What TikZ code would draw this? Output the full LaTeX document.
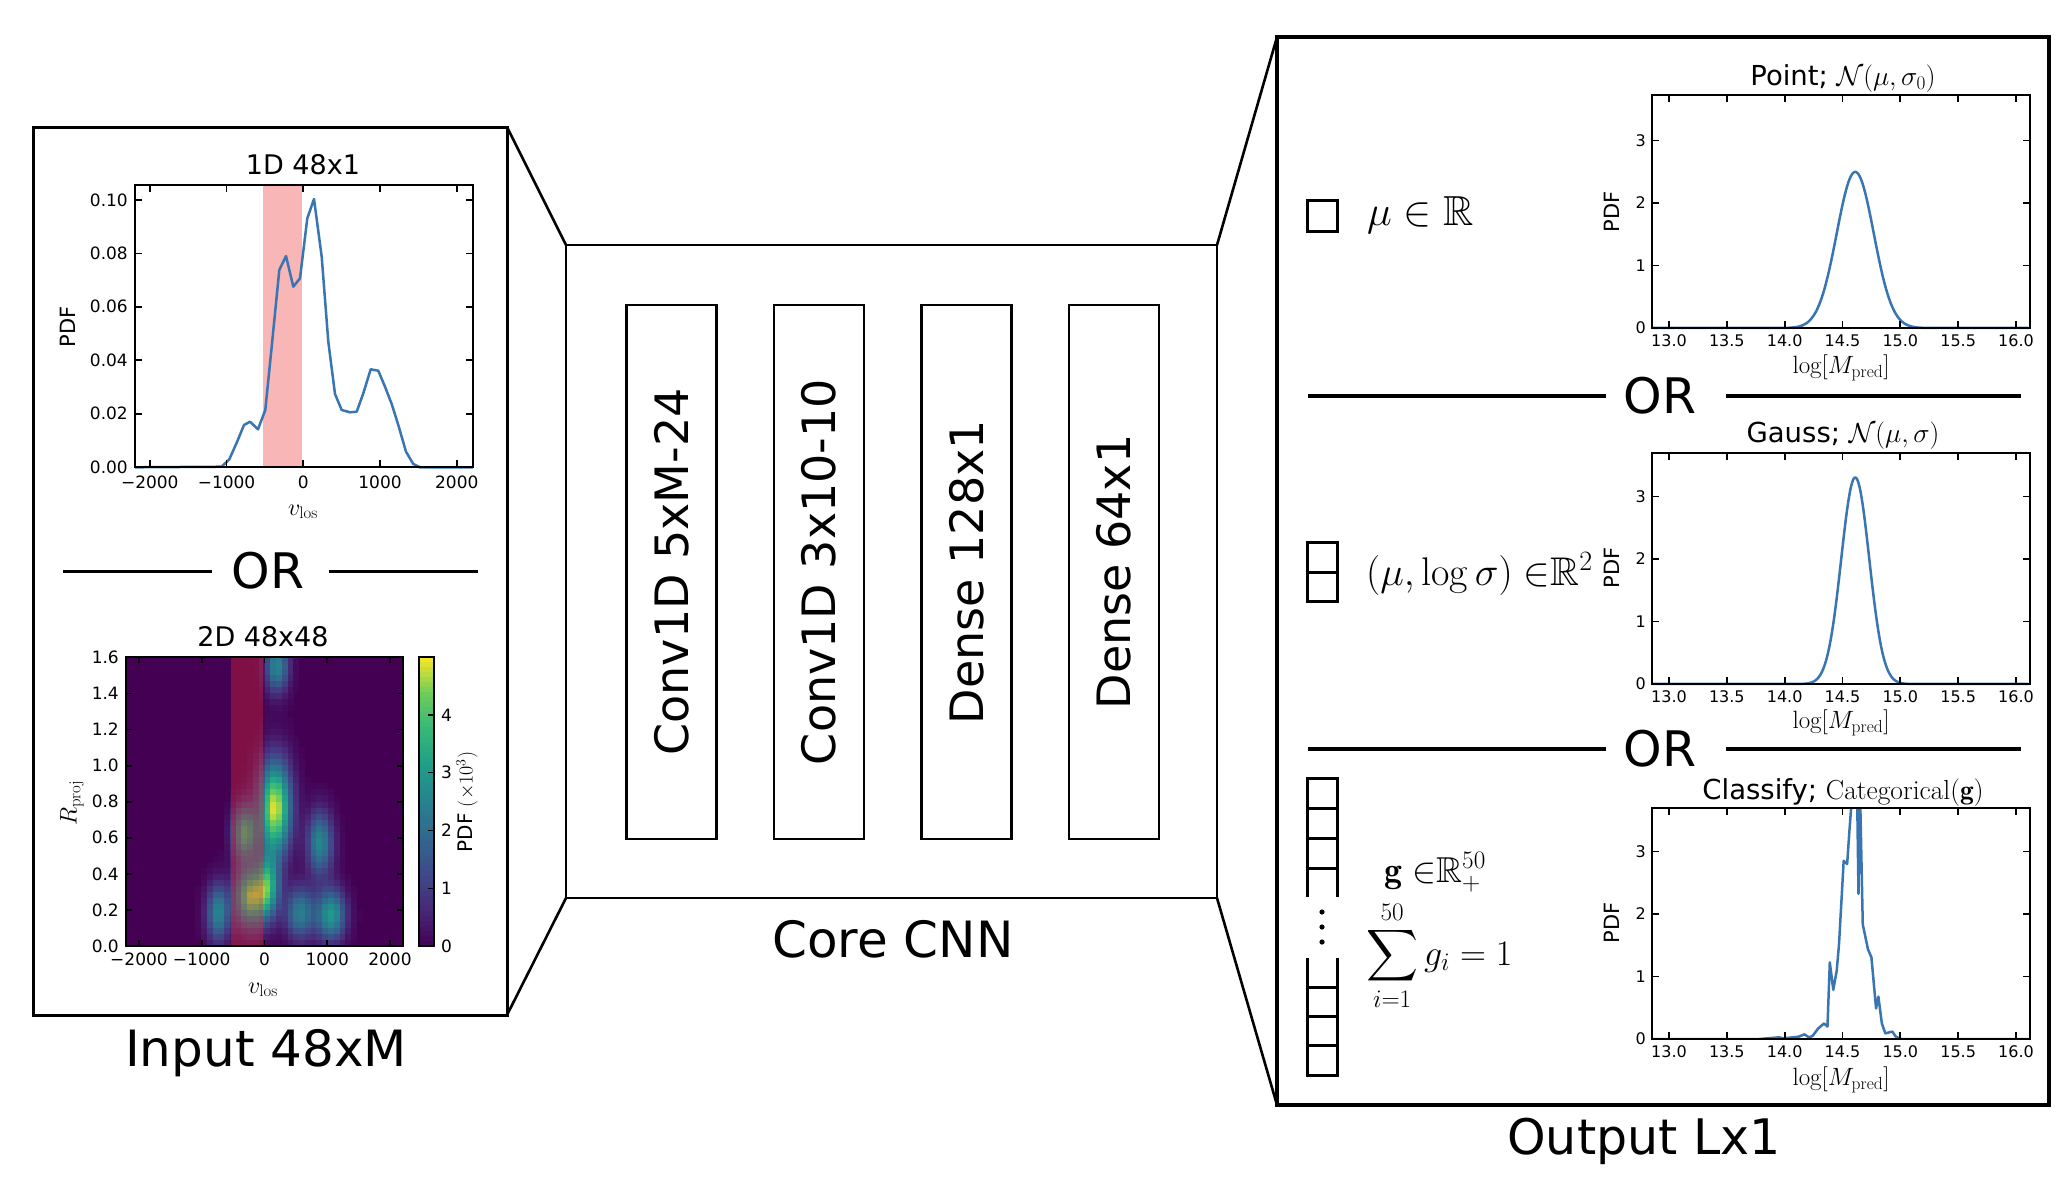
\RequirePackage{fix-cm}
\documentclass[tikz,border=0pt]{standalone}
\usepackage{amsmath,amssymb}
\usepackage{fontspec}
\newfontfamily\dv{DejaVu Sans}
\definecolor{vir0}{RGB}{68,1,84}
\definecolor{vir1}{RGB}{72,40,120}
\definecolor{vir2}{RGB}{62,74,137}
\definecolor{vir3}{RGB}{49,104,142}
\definecolor{vir4}{RGB}{38,130,142}
\definecolor{vir5}{RGB}{31,158,137}
\definecolor{vir6}{RGB}{53,183,121}
\definecolor{vir7}{RGB}{109,205,89}
\definecolor{vir8}{RGB}{253,231,37}
\definecolor{curveblue}{RGB}{57,117,178}
\definecolor{bandred}{RGB}{235,45,45}
\newcommand{\fsz}[1]{\fontsize{#1}{#1}\selectfont}
\newcommand{\setvir}[1]{%
  \pgfmathsetmacro\vt{min(max(#1,0),0.9999)*8}%
  \pgfmathtruncatemacro\vk{\vt}%
  \pgfmathtruncatemacro\vkk{\vk+1}%
  \pgfmathsetmacro\vp{(1-(\vt-\vk))*100}%
  \colorlet{hc}{vir\vk!\vp!vir\vkk}}
\newcommand{\bl}[5]{#5*exp(max(-9,-0.5*(((\hx-#1)/#3)*((\hx-#1)/#3)+((\hy-#2)/#4)*((\hy-#2)/#4))))}
\tikzset{
  ax/.style={line width=2.6},
  tk/.style={line width=1.8},
  tl/.style={font=\dv\fsz{17}, inner sep=0},
  rtl/.style={font=\dv\fsz{16}, inner sep=0},
  crv/.style={curveblue, line width=2.5, line join=round},
  conn/.style={line width=2.6},
  orline/.style={line width=3},
  orlineR/.style={line width=3.6},
  glyph/.style={line width=3},
  layer/.style={draw, line width=2.6, rotate=90, minimum width=534, minimum height=90, inner sep=0, font=\dv\fsz{46}},
  big/.style={font=\dv\fsz{50}},
  rtitle/.style={font=\dv\fsz{27.5}},
}
\newcommand{\rpaxes}[2]{%
  \draw[ax] (1652,#1) rectangle (2030,#2);
  \foreach \k/\lab in {0/13.0,1/13.5,2/14.0,3/14.5,4/15.0,5/15.5,6/16.0}{
    \draw[tk] (1669+\k*57.83,#2) -- ++(0,-7);
    \draw[tk] (1669+\k*57.83,#1) -- ++(0,7);
    \node[rtl] at (1669+\k*57.83,#2+13) {\lab};
  }
  \foreach \k in {0,1,2,3}{
    \draw[tk] (1652,#2-\k*62.5) -- ++(7,0);
    \draw[tk] (2030,#2-\k*62.5) -- ++(-7,0);
    \node[rtl,anchor=east] at (1646,#2-\k*62.5) {\k};
  }
}
\begin{document}
\begin{tikzpicture}[x=1pt,y=-1pt]
\useasboundingbox (0,0) rectangle (2068,1192);
\fill[white] (0,0) rectangle (2068,1192);

% ---------------- main boxes ----------------
\node[draw, line width=3, minimum width=474, minimum height=888, inner sep=0, outer sep=0] (inbox) at (270,571) {};
\node[draw, line width=2.6, minimum width=651, minimum height=653, inner sep=0, outer sep=0] (core) at (891.5,571.5) {};
\node[draw, line width=3.4, minimum width=772, minimum height=1068, inner sep=0, outer sep=0] (outbox) at (1663,571) {};
\draw[conn] (inbox.north east) -- (core.north west);
\draw[conn] (inbox.south east) -- (core.south west);
\draw[conn] (core.north east) -- (outbox.north west);
\draw[conn] (core.south east) -- (outbox.south west);

% ---------------- core layers ----------------
\node[layer] (L1) at (671.5,572) {Conv1D 5xM-24};
\node[layer] (L2) at (819,572) {Conv1D 3x10-10};
\node[layer] (L3) at (966.5,572) {Dense 128x1};
\node[layer] (L4) at (1114,572) {Dense 64x1};
\node[big] (corelab) at (893,939) {Core CNN};
\node[big] (inlab) at (266,1053) {Input 48xM};
\node[big, font=\dv\fsz{49}] (outlab) at (1644,1141) {Output Lx1};

% ---------------- 1D plot ----------------
\fill[bandred!35] (263,185) rectangle (302,467);
\draw[crv] (135,467.3) -- (221.7,466.7) -- (229.3,459.3) -- (236.7,442.7) -- (244,425) -- (250,421.7) -- (258,429.3) -- (265.3,410) -- (271.7,346.7) -- (279.3,270) -- (286,256) -- (293.3,286.7) -- (300,278.3) -- (307.3,218.3) -- (314,199) -- (321.7,256.7) -- (328.3,341.7) -- (335,394) -- (341.7,410) -- (350,412.3) -- (356.7,411.7) -- (363.3,393.3) -- (370.7,369.3) -- (378.3,370.7) -- (385,386.7) -- (391.7,404) -- (398.3,425) -- (406,451.7) -- (413.3,464) -- (420,467.3) -- (473,467.3);
\draw[ax] (135,185) rectangle (473,467);
\foreach \k/\lab in {0/−2000,1/−1000,2/0,3/1000,4/2000}{
  \draw[tk] (149.8+\k*76.75,467) -- ++(0,-7);
  \draw[tk] (149.8+\k*76.75,185) -- ++(0,7);
  \node[tl] (xa\k) at (149.8+\k*76.75,482) {\lab};
}
\foreach \k/\lab in {0/0.00,1/0.02,2/0.04,3/0.06,4/0.08,5/0.10}{
  \draw[tk] (135,467-\k*53.4) -- ++(7,0);
  \draw[tk] (473,467-\k*53.4) -- ++(-7,0);
  \node[tl,anchor=east] (ya\k) at (128,467-\k*53.4) {\lab};
}
\node[font=\dv\fsz{27}] (t1) at (303,165) {1D 48x1};
\node[rotate=90, font=\dv\fsz{21}] (yl1) at (68,327) {PDF};
\node[font=\fsz{24}] (xl1) at (303,512) {$v_{\mathrm{los}}$};

% ---------------- OR (left) ----------------
\node[big, font=\dv\fsz{49}] (orL) at (268,571) {OR};
\draw[orline] (63,571) -- (212,571);
\draw[orline] (329,571) -- (478,571);

% ---------------- 2D plot ----------------
\fill[vir0] (126,657) rectangle (403,946);
\foreach \i in {10,...,43}{
  \foreach \j in {0,...,47}{
    \pgfmathsetmacro\hx{126+(\i+0.5)*5.7708}
    \pgfmathsetmacro\hy{657+(\j+0.5)*6.0208}
    \pgfmathsetmacro\hv{\bl{277}{666}{8}{18}{2.6}+\bl{275}{808}{11}{32}{4.9}+\bl{268}{887}{8}{22}{3.4}+\bl{245}{833}{8}{18}{3.6}+\bl{250}{897}{10}{20}{4.3}+\bl{218}{913}{8}{20}{2.6}+\bl{320}{843}{9}{22}{2.6}+\bl{300}{913}{10}{18}{2.4}+\bl{331}{915}{10}{18}{3.0}}
    \ifdim\hv pt>0.05pt
      \setvir{\hv/5}
      \fill[hc] (126+\i*5.7708,657+\j*6.0208) rectangle ++(5.95,6.2);
    \fi
  }
}
\fill[bandred, opacity=0.35] (231,657) rectangle (263,946);
\draw[ax] (126,657) rectangle (403,946);
\foreach \k/\lab in {0/−2000,1/−1000,2/0,3/1000,4/2000}{
  \draw[tk] (139+\k*62.75,946) -- ++(0,-6);
  \draw[tk] (139+\k*62.75,657) -- ++(0,6);
  \node[tl] (xb\k) at (139+\k*62.75,959) {\lab};
}
\foreach \k/\lab in {0/0.0,1/0.2,2/0.4,3/0.6,4/0.8,5/1.0,6/1.2,7/1.4,8/1.6}{
  \draw[tk] (126,946-\k*36.08) -- ++(6,0);
  \draw[tk] (403,946-\k*36.08) -- ++(-6,0);
  \node[tl,anchor=east] (yb\k) at (119,946-\k*36.08) {\lab};
}
\node[font=\dv\fsz{27}] (t2) at (263,637) {2D 48x48};
\node[rotate=90, font=\fsz{24}] (yl2) at (72,803) {$R_{\mathrm{proj}}$};
\node[font=\fsz{24}] (xl2) at (263,990) {$v_{\mathrm{los}}$};
% colorbar
\foreach \j in {0,...,57}{
  \setvir{(\j+0.5)/58}
  \fill[hc] (419,946-\j*4.983) rectangle (434,946-\j*4.983-5.3);
}
\draw[line width=1.2] (419,657) rectangle (434,946);
\foreach \k in {0,1,2,3,4}{
  \draw[line width=1.4] (434,946-\k*57.8) -- ++(-6,0);
  \node[tl,anchor=west] (cb\k) at (441,946-\k*57.8) {\k};
}
\node[rotate=90, font=\dv\fsz{20}] (cbl) at (467,802) {PDF $(\times 10^3)$};

% ---------------- right panel ----------------
\draw[glyph] (1307,200) rectangle (1337,231);
\draw[glyph] (1307,542) rectangle (1337,601);
\draw[glyph] (1307,572) -- (1337,572);
\draw[glyph] (1307,897) -- (1307,778) -- (1337,778) -- (1337,897);
\draw[glyph] (1307,808) -- (1337,808);
\draw[glyph] (1307,838) -- (1337,838);
\draw[glyph] (1307,868) -- (1337,868);
\draw[glyph] (1307,958) -- (1307,1075) -- (1337,1075) -- (1337,958);
\draw[glyph] (1307,987) -- (1337,987);
\draw[glyph] (1307,1016) -- (1337,1016);
\draw[glyph] (1307,1045) -- (1337,1045);
\fill (1322,912) circle (2.6);
\fill (1322,927) circle (2.6);
\fill (1322,942) circle (2.6);

\node[anchor=base west, font=\fsz{42}, inner sep=0] (m1) at (1367,225) {$\mu\in\mathbb{R}$};
\node[anchor=base west, font=\fsz{40}, inner sep=0] (m2) at (1366,585) {$(\mu,\log\sigma)\;{\in}\mathbb{R}^2$};
\node[anchor=base west, font=\fsz{36}, inner sep=0] (m3) at (1384,882) {$\mathbf{g}\;{\in}\mathbb{R}^{50}_{+}$};
\node[anchor=base west, font=\fsz{36}, inner sep=0] (m4) at (1366,965) {$\displaystyle\sum_{i=1}^{50} g_i = 1$};

% OR (right)
\node[big, font=\dv\fsz{49}] (orR1) at (1660,396) {OR};
\draw[orlineR] (1308,396) -- (1606,396);
\draw[orlineR] (1726,396) -- (2021,396);
\node[big, font=\dv\fsz{49}] (orR2) at (1660,749) {OR};
\draw[orlineR] (1308,749) -- (1606,749);
\draw[orlineR] (1726,749) -- (2021,749);

% plot 1
\begin{scope}[shift={(1669pt,-328pt)}, x=115.67pt, y=62.7pt]
  \draw[crv] plot[domain=-0.147:3.106, samples=300] (\x,{2.49*exp(max(-9,-0.5*((\x-1.61)/0.16)*((\x-1.61)/0.16)))});
\end{scope}
\rpaxes{95}{328}
\node[rtitle] (pt1) at (1843,78) {Point; $\mathcal{N}(\mu,\sigma_0)$};
\node[rotate=90, font=\dv\fsz{21}] (py1) at (1612,212) {PDF};
\node[font=\fsz{25}] (px1) at (1841,368) {$\log[M_{\mathrm{pred}}]$};

% plot 2
\begin{scope}[shift={(1669pt,-684pt)}, x=115.67pt, y=62.6pt]
  \draw[crv] plot[domain=-0.147:3.106, samples=300] (\x,{3.3*exp(max(-9,-0.5*((\x-1.61)/0.121)*((\x-1.61)/0.121)))});
\end{scope}
\rpaxes{453}{684}
\node[rtitle] (pt2) at (1843,436) {Gauss; $\mathcal{N}(\mu,\sigma)$};
\node[rotate=90, font=\dv\fsz{21}] (py2) at (1612,568) {PDF};
\node[font=\fsz{25}] (px2) at (1841,723) {$\log[M_{\mathrm{pred}}]$};

% plot 3
\begin{scope}[shift={(1669pt,-1039pt)}, x=115.67pt, y=62.3pt]
  \clip (-0.147,0) rectangle (3.106,3.7);
  \draw[crv] (-0.147,0) -- (0.78,0) -- (0.95,0.027) -- (0.99,0.011) -- (1.12,0.037) -- (1.17,0.075) -- (1.21,0.027) -- (1.24,0.048) -- (1.29,0.17) -- (1.34,0.25) -- (1.37,0.20) -- (1.39,1.23) -- (1.42,0.79) -- (1.45,1.10) -- (1.47,1.53) -- (1.51,2.86) -- (1.54,2.81) -- (1.56,3.35) -- (1.59,4.1) -- (1.625,4.1) -- (1.638,2.33) -- (1.65,4.1) -- (1.675,1.84) -- (1.72,1.44) -- (1.75,1.31) -- (1.79,0.49) -- (1.81,0.68) -- (1.84,0.25) -- (1.87,0.09) -- (1.93,0.12) -- (1.96,0.04) -- (2.0,0) -- (3.106,0);
\end{scope}
\rpaxes{808}{1039}
\node[rtitle] (pt3) at (1843,792) {Classify; $\mathrm{Categorical}(\mathbf{g})$};
\node[rotate=90, font=\dv\fsz{21}] (py3) at (1612,923) {PDF};
\node[font=\fsz{25}] (px3) at (1841,1080) {$\log[M_{\mathrm{pred}}]$};
\end{tikzpicture}
\end{document}
